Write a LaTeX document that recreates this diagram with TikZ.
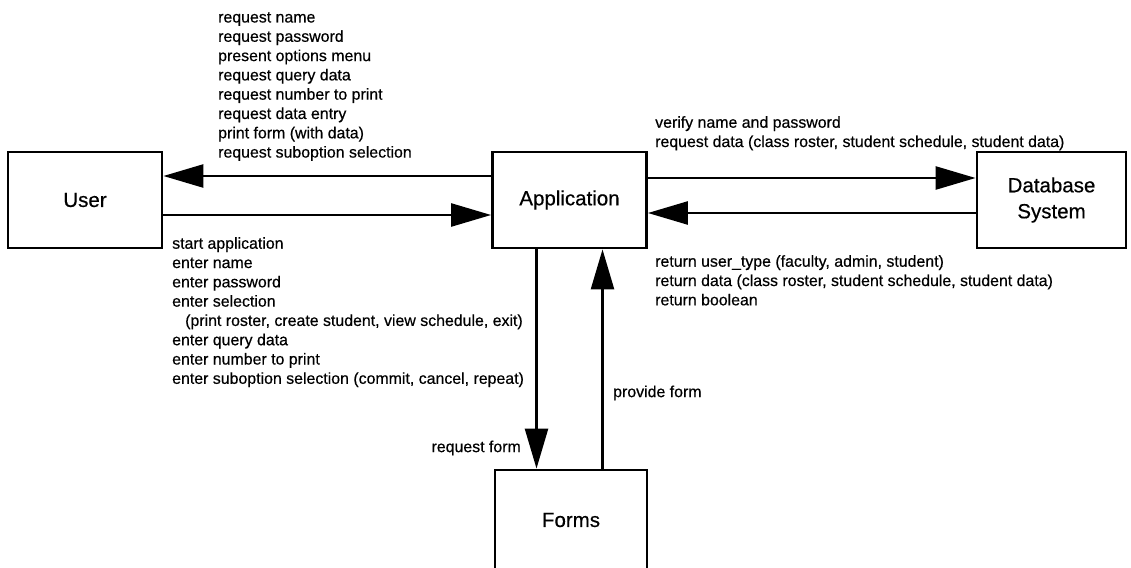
\documentclass[tikz,border=0pt]{standalone}
\usepackage{fontspec}
\setmainfont{Liberation Sans}[FakeBold=0.5]
\usetikzlibrary{arrows.meta,positioning}

\begin{document}
\begin{tikzpicture}[x=1pt,y=-1pt,
        box/.style={draw, line width=2.8pt, minimum width=154pt, minimum height=96pt,
            inner sep=0pt, align=center, font=\fontsize{20.5}{26}\selectfont},
        flow/.style={line width=2.5pt, -{Triangle[length=40pt,width=23pt]}},
        msg/.style={inner sep=0pt, align=left, anchor=north west,
            font=\fontsize{15.9}{19.3}\selectfont}]
        \useasboundingbox (0,0) rectangle (1131,567);

        \node[box] (user) at (85,200) {User};
        \node[box] (app) at (569.5,200) {Application};
        \node[box, minimum width=149pt] (db) at (1051.5,200) {Database\\System};
        \node[box, minimum width=152pt, minimum height=100pt] (forms) at (571,520) {Forms};

        % user <-> application
        \draw[flow] ([yshift=24pt]app.west) -- ([yshift=24pt]user.east);
        \draw[flow] ([yshift=-15pt]user.east) -- ([yshift=-15pt]app.west);
        % application <-> database
        \draw[flow] ([yshift=22pt]app.east) -- ([yshift=22pt]db.west);
        \draw[flow] ([yshift=-13pt]db.west) -- ([yshift=-13pt]app.east);
        % application <-> forms
        \draw[flow] ([xshift=-33pt]app.south) -- ([xshift=-33pt]app.south |- forms.north);
        \draw[flow] ([xshift=33pt]app.south |- forms.north) -- ([xshift=33pt]app.south);

        \node[msg] (toUser) at (218,12) {request name\\request password\\present options menu\\
            request query data\\request number to print\\request data entry\\
            print form (with data)\\request suboption selection};
        \node[msg] (fromUser) at (172,237) {start application\\enter name\\enter password\\
            enter selection\\\hspace*{13pt}(print roster, create student, view schedule, exit)\\
            enter query data\\enter number to print\\
            enter suboption selection (commit, cancel, repeat)};
        \node[msg] (toDb) at (655,116) {verify name and password\\
            request data (class roster, student schedule, student data)};
        \node[msg] (fromDb) at (655,255) {return user\_type (faculty, admin, student)\\
            return data (class roster, student schedule, student data)\\return boolean};
        \node[msg, anchor=east] (reqForm) at (521,448) {request form};
        \node[msg, anchor=west] (provForm) at (613,393) {provide form};
    \end{tikzpicture}
\end{document}
